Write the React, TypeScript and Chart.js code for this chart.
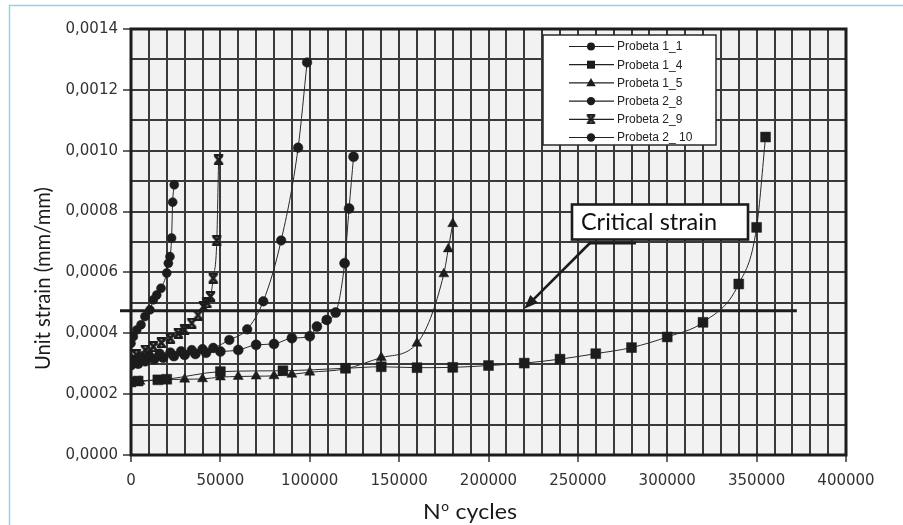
import React, { useEffect, useRef } from 'react';
import { Chart, registerables } from 'chart.js';
Chart.register(...registerables);

// ---- Data ----
const P11_X = [0, 5000, 10000, 16000, 22000, 28000, 34000, 40000, 46000, 55000, 65000, 74000, 84000, 93500, 98500];
const P11_Y = [0.000315, 0.000322, 0.000328, 0.000333, 0.000337, 0.000341, 0.000345, 0.000348, 0.000352, 0.000378, 0.000413, 0.000505, 0.000705, 0.00101, 0.00129];

const P14_X = [0, 4000, 15000, 20000, 50000, 85000, 120000, 140000, 160000, 180000, 200000, 220000, 240000, 260000, 280000, 300000, 320000, 340000, 350000, 355000];
const P14_Y = [0.00024, 0.000243, 0.000247, 0.000249, 0.000274, 0.000277, 0.000285, 0.00029, 0.000287, 0.000288, 0.000294, 0.000302, 0.000315, 0.000333, 0.000353, 0.000388, 0.000436, 0.000562, 0.000748, 0.001045];

const P15_X = [0, 5000, 30000, 40000, 50000, 60000, 70000, 80000, 90000, 100000, 120000, 140000, 160000, 175000, 177500, 180000];
const P15_Y = [0.000238, 0.000242, 0.000249, 0.00025, 0.000256, 0.000258, 0.000259, 0.00026, 0.000265, 0.000272, 0.000283, 0.00032, 0.000367, 0.000595, 0.000677, 0.00076];

const P28_X = [0, 4000, 8000, 13000, 18000, 24000, 30000, 36000, 42000, 50000, 60000, 70000, 80000, 90000, 100000, 104000, 109500, 114500, 119500, 122000, 124500];
const P28_Y = [0.000295, 0.0003, 0.000308, 0.000315, 0.00032, 0.000325, 0.000329, 0.000332, 0.000336, 0.00034, 0.000345, 0.000362, 0.000365, 0.000384, 0.00039, 0.000422, 0.000444, 0.000468, 0.00063, 0.00081, 0.00098];

const P29_X = [0, 3000, 8000, 12500, 17000, 22000, 26500, 30000, 34000, 37500, 40500, 42500, 44500, 46000, 48000, 49000];
const P29_Y = [0.000312, 0.000329, 0.000345, 0.000356, 0.000369, 0.000384, 0.0004, 0.000411, 0.000433, 0.00046, 0.000488, 0.0005, 0.000521, 0.000581, 0.000705, 0.00097];

const P210_X = [0, 1300, 3200, 5600, 7800, 10600, 12500, 14400, 16800, 20000, 20900, 21800, 22700, 23300, 24200];
const P210_Y = [0.000367, 0.000389, 0.000411, 0.000428, 0.000455, 0.000477, 0.00051, 0.000526, 0.000548, 0.000598, 0.00063, 0.000652, 0.000713, 0.000831, 0.000888];

const SERIES_LABELS = ['Probeta 1_1', 'Probeta 1_4', 'Probeta 1_5', 'Probeta 2_8', 'Probeta 2_9', 'Probeta 2_ 10'];
const X_TICK_LABELS = ['0', '50000', '100000', '150000', '200000', '250000', '300000', '350000', '400000'];
const Y_TICK_LABELS = ['0,0000', '0,0002', '0,0004', '0,0006', '0,0008', '0,0010', '0,0012', '0,0014'];
const X_TITLE_MAIN = 'N';
const X_TITLE_SUP = 'o';
const X_TITLE_REST = ' cycles';
const Y_TITLE = 'Unit strain (mm/mm)';
const CRITICAL_LABEL = 'Critical strain';
const CRITICAL_STRAIN = 0.000474;
const CRITICAL_END_X = 372500;
const ARROW_TIP_X = 220000;

const INK = '#1c1c1c';

function makeXMarker(size: number) {
  const c = document.createElement('canvas');
  c.width = size; c.height = size;
  const g = c.getContext('2d')!;
  g.fillStyle = INK;
  g.strokeStyle = INK;
  const s = size;
  g.fillRect(s * 0.08, 0, s * 0.84, s * 0.2);
  g.fillRect(s * 0.08, s * 0.8, s * 0.84, s * 0.2);
  g.lineWidth = s * 0.26;
  g.beginPath();
  g.moveTo(s * 0.18, s * 0.12); g.lineTo(s * 0.82, s * 0.88);
  g.moveTo(s * 0.82, s * 0.12); g.lineTo(s * 0.18, s * 0.88);
  g.stroke();
  return c;
}

function drawMarker(ctx: CanvasRenderingContext2D, style: any, x: number, y: number, r: number) {
  ctx.save();
  ctx.fillStyle = INK;
  ctx.beginPath();
  if (style === 'circle') {
    ctx.arc(x, y, r, 0, Math.PI * 2);
    ctx.fill();
  } else if (style === 'rect') {
    ctx.fillRect(x - r, y - r, 2 * r, 2 * r);
  } else if (style === 'triangle') {
    ctx.moveTo(x, y - r * 1.1);
    ctx.lineTo(x + r * 1.05, y + r * 0.75);
    ctx.lineTo(x - r * 1.05, y + r * 0.75);
    ctx.closePath();
    ctx.fill();
  } else if (style && style.width) {
    ctx.drawImage(style, x - r - 0.5, y - r - 0.5, 2 * r + 1, 2 * r + 1);
  }
  ctx.restore();
}

function fitText(ctx: CanvasRenderingContext2D, text: string, cx: number, baseY: number, targetW: number, font: string) {
  ctx.save();
  ctx.font = font;
  const w = ctx.measureText(text).width;
  ctx.translate(cx, baseY);
  ctx.scale(targetW / w, 1);
  ctx.textAlign = 'center';
  ctx.textBaseline = 'alphabetic';
  ctx.fillText(text, 0, 0);
  ctx.restore();
}

export default function App() {
  const ref = useRef<HTMLCanvasElement | null>(null);

  useEffect(() => {
    const canvas = ref.current!;
    const xMarker = makeXMarker(11);
    const xMarkerLegend = makeXMarker(9);

    const styles: any[] = ['circle', 'rect', 'triangle', 'circle', xMarker, 'circle'];
    const legendStyles: any[] = ['circle', 'rect', 'triangle', 'circle', xMarkerLegend, 'circle'];
    const radii = [4.8, 7, 5.8, 5, 5.5, 4.5];
    const legendR = [4, 4, 4.5, 4.2, 4.5, 4.2];
    const xs = [P11_X, P14_X, P15_X, P28_X, P29_X, P210_X];
    const ysArr = [P11_Y, P14_Y, P15_Y, P28_Y, P29_Y, P210_Y];

    const datasets = SERIES_LABELS.map((label, i) => ({
      label,
      data: xs[i].map((x, j) => ({ x, y: ysArr[i][j] })),
      borderColor: '#2a2a2a',
      borderWidth: 1,
      backgroundColor: INK,
      pointBackgroundColor: INK,
      pointBorderColor: INK,
      pointBorderWidth: 0.5,
      pointStyle: styles[i],
      pointRadius: radii[i],
      cubicInterpolationMode: 'monotone' as const,
      fill: false,
    }));

    const decor = {
      id: 'decor',
      beforeDraw(chart: any) {
        const { ctx, chartArea: a } = chart;
        ctx.save();
        ctx.fillStyle = '#ffffff';
        ctx.fillRect(0, 0, chart.width, chart.height);
        ctx.strokeStyle = '#8fd4ee';
        ctx.lineWidth = 1.5;
        ctx.beginPath();
        ctx.moveTo(9.5, chart.height);
        ctx.lineTo(9.5, 5.5);
        ctx.lineTo(chart.width, 5.5);
        ctx.stroke();
        ctx.fillStyle = '#f2f2f2';
        ctx.fillRect(a.left, a.top, a.right - a.left, a.bottom - a.top);
        ctx.restore();
      },
      beforeDatasetsDraw(chart: any) {
        const { ctx, chartArea: a, scales } = chart;
        ctx.save();
        ctx.strokeStyle = INK;
        ctx.lineWidth = 3;
        ctx.strokeRect(a.left, a.top, a.right - a.left, a.bottom - a.top);
        const y = scales.y.getPixelForValue(CRITICAL_STRAIN);
        ctx.lineWidth = 3.2;
        ctx.beginPath();
        ctx.moveTo(a.left - 11, y);
        ctx.lineTo(scales.x.getPixelForValue(CRITICAL_END_X), y);
        ctx.stroke();
        ctx.restore();
      },
      afterDatasetsDraw(chart: any) {
        const { ctx, scales } = chart;
        ctx.save();
        // Legend box
        ctx.fillStyle = '#ffffff';
        ctx.fillRect(543, 35, 173, 110);
        ctx.strokeStyle = '#2a2a2a';
        ctx.lineWidth = 1.5;
        ctx.strokeRect(543, 35, 173, 110);
        ctx.font = '12px "Liberation Sans", Arial, sans-serif';
        ctx.textBaseline = 'middle';
        ctx.textAlign = 'left';
        SERIES_LABELS.forEach((label, i) => {
          const y = 46.5 + i * 18.2;
          ctx.strokeStyle = '#222';
          ctx.lineWidth = 1.2;
          ctx.beginPath();
          ctx.moveTo(569, y);
          ctx.lineTo(614, y);
          ctx.stroke();
          drawMarker(ctx, legendStyles[i], 591, y, legendR[i]);
          ctx.fillStyle = '#222';
          ctx.fillText(label, 617, y + 0.5);
        });

        // Critical strain annotation
        const cy = scales.y.getPixelForValue(CRITICAL_STRAIN);
        const tipX = scales.x.getPixelForValue(ARROW_TIP_X);
        const tipY = cy - 2;
        const sx = 591, sy = 242;
        ctx.strokeStyle = INK;
        ctx.lineWidth = 2.6;
        ctx.beginPath();
        ctx.moveTo(sx, sy);
        const ang = Math.atan2(tipY - sy, tipX - sx);
        ctx.lineTo(tipX - Math.cos(ang) * 10, tipY - Math.sin(ang) * 10);
        ctx.stroke();
        ctx.fillStyle = INK;
        ctx.beginPath();
        ctx.moveTo(tipX, tipY);
        ctx.lineTo(tipX - Math.cos(ang) * 14 + Math.sin(ang) * 5.5, tipY - Math.sin(ang) * 14 - Math.cos(ang) * 5.5);
        ctx.lineTo(tipX - Math.cos(ang) * 14 - Math.sin(ang) * 5.5, tipY - Math.sin(ang) * 14 + Math.cos(ang) * 5.5);
        ctx.closePath();
        ctx.fill();
        ctx.lineWidth = 3;
        ctx.beginPath();
        ctx.moveTo(590, 243);
        ctx.lineTo(636, 243);
        ctx.stroke();
        ctx.fillStyle = '#ffffff';
        ctx.fillRect(572, 204.5, 176, 35);
        ctx.strokeStyle = INK;
        ctx.lineWidth = 2.6;
        ctx.strokeRect(572, 204.5, 176, 35);
        ctx.fillStyle = '#111';
        fitText(ctx, CRITICAL_LABEL, 649, 229.5, 136, '24px Lato, "Open Sans", sans-serif');

        // Axis titles
        ctx.fillStyle = '#1a1a1a';
        const mainFont = '22px Lato, "Open Sans", sans-serif';
        const supFont = '13px Lato, "Open Sans", sans-serif';
        ctx.font = mainFont;
        const wN = ctx.measureText(X_TITLE_MAIN).width;
        const wR = ctx.measureText(X_TITLE_REST).width;
        ctx.font = supFont;
        const wS = ctx.measureText(X_TITLE_SUP).width;
        const total = wN + wS + 1 + wR;
        const target = 94;
        const sc = target / total;
        ctx.save();
        ctx.translate(470 - target / 2, 519);
        ctx.scale(sc, 1);
        ctx.textAlign = 'left';
        ctx.textBaseline = 'alphabetic';
        ctx.font = mainFont;
        ctx.fillText(X_TITLE_MAIN, 0, 0);
        ctx.font = supFont;
        ctx.fillText(X_TITLE_SUP, wN + 0.5, -8);
        ctx.font = mainFont;
        ctx.fillText(X_TITLE_REST, wN + wS + 1, 0);
        ctx.restore();

        // Y title (rotated)
        ctx.save();
        ctx.translate(49.5, 278.5);
        ctx.rotate(-Math.PI / 2);
        fitText(ctx, Y_TITLE, 0, 0, 183, '22px Lato, "Open Sans", sans-serif');
        ctx.restore();
        ctx.restore();
      },
    };

    const yParity = (v: number) => Math.round(v / 0.0001);
    const xParity = (v: number) => Math.round(v / 10000);

    const chart = new Chart(canvas, {
      type: 'line',
      data: { datasets: datasets as any },
      options: {
        responsive: false,
        animation: false,
        events: [],
        layout: { padding: { left: 0, right: 57, top: 29, bottom: 0 } },
        plugins: { legend: { display: false }, tooltip: { enabled: false } },
        scales: {
          x: {
            type: 'linear',
            min: 0,
            max: 400000,
            afterFit: (s: any) => { s.height = 70; },
            ticks: {
              stepSize: 10000,
              maxTicksLimit: 100,
              autoSkip: false,
              maxRotation: 0,
              minRotation: 0,
              padding: 10,
              color: '#333',
              font: { family: '"DejaVu Sans"', size: 15 },
              callback: (v: any) => {
                const i = xParity(Number(v));
                return i % 5 === 0 ? X_TICK_LABELS[i / 5] : '';
              },
            },
            grid: {
              color: '#3a3a3a',
              lineWidth: 2,
              drawTicks: true,
              tickLength: 7,
              tickWidth: 1.5,
              tickColor: (c: any) => (c.tick && xParity(c.tick.value) % 5 === 0 ? '#333' : 'rgba(0,0,0,0)'),
            },
            border: { display: false },
          },
          y: {
            type: 'linear',
            min: 0,
            max: 0.0014,
            afterFit: (s: any) => { s.width = 131; },
            ticks: {
              stepSize: 0.0001,
              maxTicksLimit: 100,
              autoSkip: false,
              padding: 5,
              color: '#333',
              font: { family: '"DejaVu Sans"', size: 15 },
              callback: (v: any) => {
                const i = yParity(Number(v));
                return i % 2 === 0 ? Y_TICK_LABELS[i / 2] : '';
              },
            },
            grid: {
              color: '#3a3a3a',
              lineWidth: 2,
              drawTicks: true,
              tickLength: 8,
              tickWidth: 1.5,
              tickColor: (c: any) => (c.tick && yParity(c.tick.value) % 2 === 0 ? '#333' : 'rgba(0,0,0,0)'),
            },
            border: { display: false },
          },
        },
      } as any,
      plugins: [decor],
    });
    return () => chart.destroy();
  }, []);

  return (
    <div style={{ position: 'absolute', left: 0, top: 0, width: 903, height: 525, background: '#fff' }}>
      <canvas ref={ref} width={903} height={525} style={{ width: 903, height: 525, display: 'block' }} />
    </div>
  );
}
